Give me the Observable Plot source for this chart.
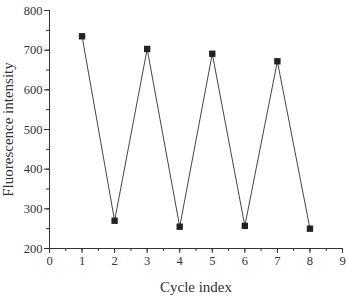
<!DOCTYPE html>
<html><head><meta charset="utf-8">
<script src="https://cdn.jsdelivr.net/npm/d3@7"></script>
<script src="https://cdn.jsdelivr.net/npm/@observablehq/plot@0.6"></script>
<style>
body{margin:0;background:#fff;}
svg{font-family:"Liberation Serif","DejaVu Serif",serif;}
g[aria-label="x-axis label"] text, g[aria-label="y-axis label"] text{font-size:15px;}
</style></head>
<body><div id="chart"></div>
<script>
const cycles = [1, 2, 3, 4, 5, 6, 7, 8];
const intensity = [735, 270, 703, 255, 691, 257, 672, 250];
const xTicks = [0, 1, 2, 3, 4, 5, 6, 7, 8, 9];
const yTicks = [200, 300, 400, 500, 600, 700, 800];
const xMinor = d3.range(0, 9.01, 0.5);
const yMinor = d3.range(200, 801, 50);
const data = cycles.map((c, i) => ({cycle: c, value: intensity[i]}));
const ink = "#333";
const chart = Plot.plot({
  width: 347, height: 296,
  marginLeft: 49, marginRight: 5, marginTop: 10, marginBottom: 48,
  x: {domain: [0, 9]},
  y: {domain: [200, 800]},
  marks: [
    Plot.axisX({ticks: xMinor, tickSize: 3, text: null, label: null, stroke: ink}),
    Plot.axisY({ticks: yMinor, tickSize: 3, text: null, label: null, stroke: ink}),
    Plot.axisX({ticks: xTicks, tickSize: 5, tickPadding: 3, fontSize: 12.5, color: ink,
      label: "Cycle index", labelAnchor: "center", labelArrow: "none", labelOffset: 43}),
    Plot.axisY({ticks: yTicks, tickSize: 5, tickPadding: 2, fontSize: 12.5, color: ink,
      label: "Fluorescence intensity", labelAnchor: "center", labelArrow: "none", labelOffset: 47}),
    Plot.ruleX([0], {stroke: ink}),
    Plot.ruleY([200], {stroke: ink}),
    Plot.line(data, {x: "cycle", y: "value", stroke: "#444", strokeWidth: 1}),
    Plot.dot(data, {x: "cycle", y: "value", symbol: "square", r: 3.6, fill: "#222", stroke: "none"})
  ]
});
document.getElementById("chart").append(chart);
</script></body></html>
